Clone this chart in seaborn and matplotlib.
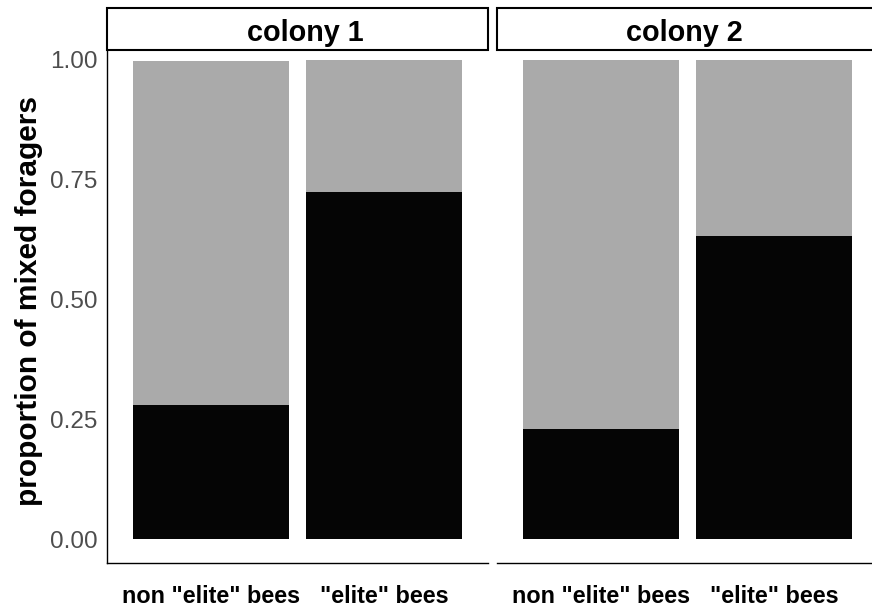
import matplotlib
matplotlib.use("Agg")
import matplotlib.pyplot as plt
from matplotlib.patches import Rectangle
import pandas as pd
import seaborn as sns

# data
colonies = ["colony 1", "colony 2"]
categories = ['non "elite" bees', '"elite" bees']
mixed_c1 = [0.279, 0.725]
mixed_c2 = [0.229, 0.633]
total_c1 = [0.998, 1.0]
total_c2 = [1.0, 1.0]
yticks = [0.0, 0.25, 0.50, 0.75, 1.00]
ytick_labels = ["0.00", "0.25", "0.50", "0.75", "1.00"]

grey = "#AAAAAA"
black = "#050505"

sns.set_style("white")
plt.rcParams["font.family"] = ["Liberation Sans", "DejaVu Sans"]

df = pd.DataFrame({
    "colony": [c for c in colonies for _ in categories],
    "group": categories * 2,
    "mixed": mixed_c1 + mixed_c2,
    "total": total_c1 + total_c2,
})

W, H = 872, 609
fig = plt.figure(figsize=(W / 100, H / 100), dpi=100)


def px_axes(x0, y0, x1, y1):
    return fig.add_axes([x0 / W, 1 - y1 / H, (x1 - x0) / W, (y1 - y0) / H])


panels = [(107, 488), (497, 878)]
strip_text_x = [305, 684]

for i, colony in enumerate(colonies):
    x0, x1 = panels[i]
    ax = px_axes(x0, 36, x1, 563)
    sub = df[df["colony"] == colony]
    sns.barplot(data=sub, x="group", y="total", order=categories, color=grey,
                saturation=1, width=0.9, errorbar=None, linewidth=0, ax=ax)
    sns.barplot(data=sub, x="group", y="mixed", order=categories, color=black,
                saturation=1, width=0.9, errorbar=None, linewidth=0, ax=ax)
    ax.set_xlim(-0.6, 1.6)
    ax.set_ylim(-0.05, 1.05)
    ax.set_xlabel("")
    ax.set_ylabel("")
    ax.set_facecolor("white")
    for side in ["top", "right"]:
        ax.spines[side].set_visible(False)
    ax.spines["bottom"].set_color("black")
    ax.spines["bottom"].set_linewidth(1.0)
    ax.tick_params(axis="x", length=4, width=0.8, color="#333333",
                   labelsize=16.8, labelcolor="black", pad=12)
    for lab in ax.get_xticklabels():
        lab.set_fontweight("bold")
    if i == 0:
        ax.spines["left"].set_color("black")
        ax.spines["left"].set_linewidth(1.0)
        ax.set_yticks(yticks)
        ax.set_yticklabels(ytick_labels)
        ax.tick_params(axis="y", length=5, width=0.8, color="#333333",
                       labelsize=17.5, labelcolor="#4D4D4D", pad=2)
    else:
        ax.spines["left"].set_visible(False)
        ax.set_yticks([])

    # facet strip, drawn over the top of the panel
    strip = Rectangle((x0 / W, 1 - 50 / H), (x1 - x0) / W, 42 / H,
                      transform=fig.transFigure, facecolor="white",
                      edgecolor="black", linewidth=1.5, zorder=5)
    fig.patches.append(strip)
    fig.text(strip_text_x[i] / W, 1 - 41 / H, colony, ha="center", va="baseline",
             fontsize=20.7, fontweight="bold", color="black", zorder=6)

fig.text(29 / W, 1 - 301 / H, "proportion of mixed foragers", rotation=90,
         ha="center", va="center", fontsize=21.5, fontweight="bold", color="black")

fig.savefig("out.png", dpi=100)
